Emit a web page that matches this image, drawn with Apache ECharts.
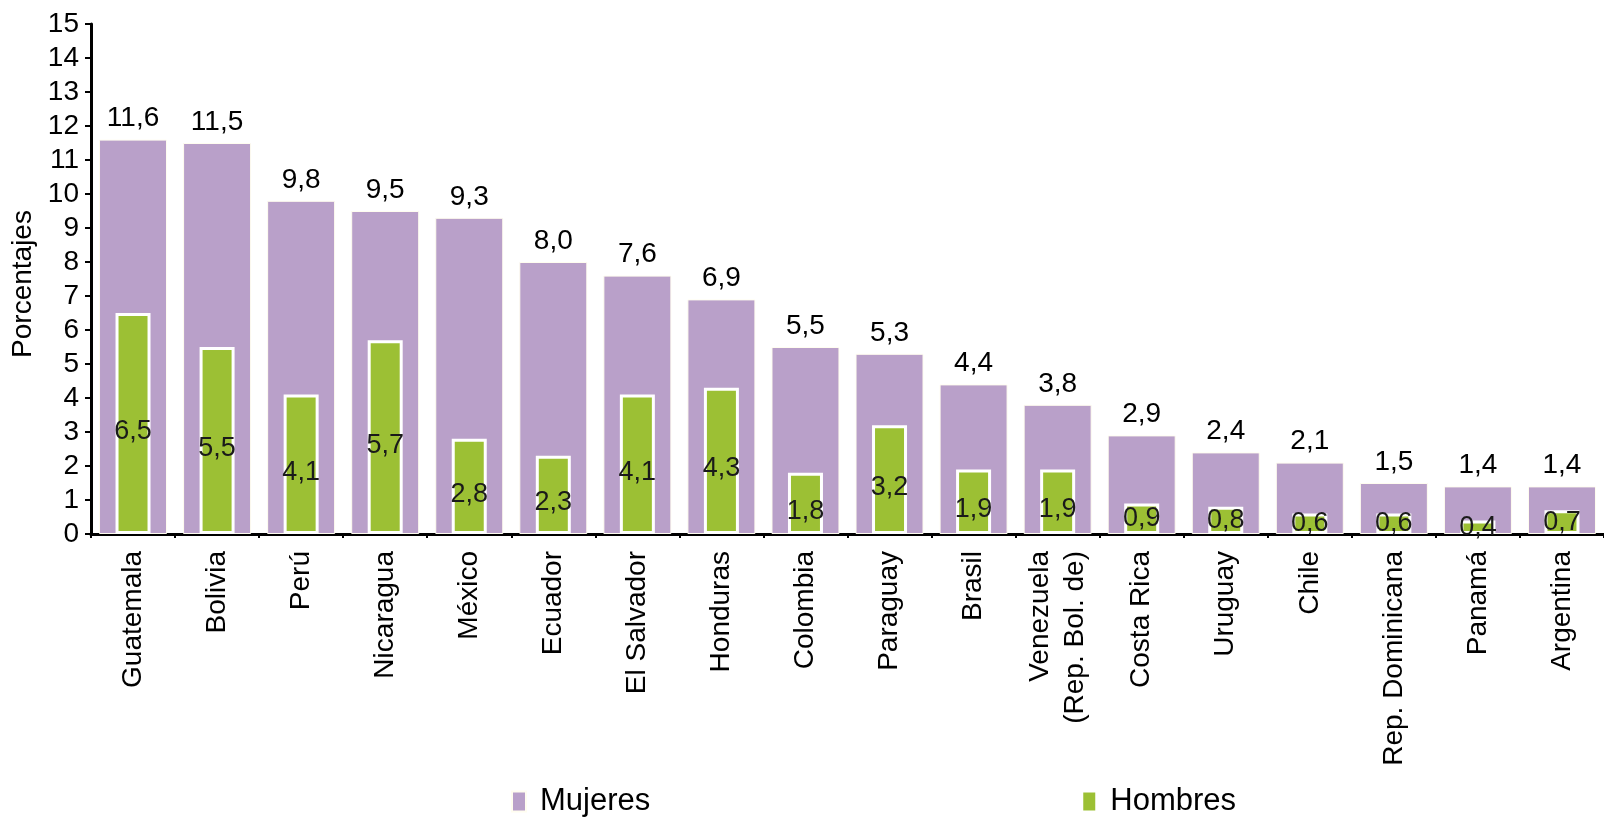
<!DOCTYPE html>
<html>
<head>
<meta charset="utf-8">
<script src="https://cdn.jsdelivr.net/npm/echarts@6/dist/echarts.min.js"></script>
<style>
  html, body { margin: 0; padding: 0; background: #fff; }
  #chart { width: 1604px; height: 818px; }
</style>
</head>
<body>
<div id="chart"></div>
<script>
// Chart data
const countries = [
  'Guatemala', 'Bolivia', 'Perú', 'Nicaragua', 'México', 'Ecuador',
  'El Salvador', 'Honduras', 'Colombia', 'Paraguay', 'Brasil',
  'Venezuela\n(Rep. Bol. de)', 'Costa Rica', 'Uruguay', 'Chile',
  'Rep. Dominicana', 'Panamá', 'Argentina'
];
const mujeres = [11.6, 11.5, 9.8, 9.5, 9.3, 8.0, 7.6, 6.9, 5.5, 5.3, 4.4, 3.8, 2.9, 2.4, 2.1, 1.5, 1.4, 1.4];
const hombres = [6.5, 5.5, 4.1, 5.7, 2.8, 2.3, 4.1, 4.3, 1.8, 3.2, 1.9, 1.9, 0.9, 0.8, 0.6, 0.6, 0.4, 0.7];

const FONT = '"Liberation Sans", Arial, sans-serif';
const PURPLE = '#b9a0c9';
const GREEN = '#9cc034';

const chart = echarts.init(document.getElementById('chart'));

// comma decimal separator
const fmt = (p) => p.value.toFixed(1).replace('.', ',');

// labels of the taller green bars sit a bit below the middle
const hombresData = hombres.map(v => ({
  value: v,
  label: { offset: [0, v >= 1.5 ? 8 : 0] }
}));

const option = {
  animation: false,
  textStyle: { fontFamily: FONT, color: '#000' },
  grid: { left: 91, right: -20, top: 24, bottom: 284 },
  legend: {
    left: 511,
    top: 786,
    padding: 0,
    itemGap: 431,
    itemWidth: 14,
    itemHeight: 20,
    icon: 'rect',
    textStyle: { fontFamily: FONT, fontSize: 31, color: '#000', padding: [0, 0, 0, 9] },
    data: ['Mujeres', 'Hombres']
  },
  xAxis: [
    {
      type: 'category',
      data: countries,
      axisLine: { lineStyle: { color: '#000', width: 3 } },
      axisTick: { show: true, length: 4, lineStyle: { color: '#000', width: 2 } },
      axisLabel: {
        rotate: 90,
        interval: 0,
        margin: 17,
        fontSize: 28,
        lineHeight: 35,
        color: '#000',
        fontFamily: FONT,
        padding: [0, 0, 20, 0]
      }
    },
    {
      type: 'category',
      data: countries,
      show: false
    }
  ],
  yAxis: {
    type: 'value',
    min: 0,
    max: 15,
    interval: 1,
    name: 'Porcentajes',
    nameLocation: 'middle',
    nameGap: 45,
    nameTextStyle: { fontSize: 28, color: '#000', fontFamily: FONT, padding: [0, 10, 0, 0] },
    axisLine: { show: true, lineStyle: { color: '#000', width: 3 } },
    axisTick: { show: true, length: 6, lineStyle: { color: '#000', width: 2 } },
    axisLabel: { fontSize: 28, margin: 12, color: '#000', fontFamily: FONT },
    splitLine: { show: false }
  },
  series: [
    {
      name: 'Mujeres',
      type: 'bar',
      xAxisIndex: 0,
      data: mujeres,
      barWidth: 68,
      itemStyle: { color: PURPLE, borderColor: '#fffdf0', borderWidth: 1 },
      label: {
        show: true,
        position: 'top',
        distance: 7,
        fontSize: 28,
        color: '#000',
        fontFamily: FONT,
        formatter: fmt
      },
      z: 2
    },
    {
      name: 'Hombres',
      type: 'bar',
      xAxisIndex: 1,
      data: hombresData,
      barWidth: 35,
      itemStyle: { color: GREEN, borderColor: '#fff', borderWidth: 3 },
      label: {
        show: true,
        position: 'inside',
        fontSize: 27,
        color: '#1a1a1a',
        fontFamily: FONT,
        formatter: fmt
      },
      z: 3
    }
  ]
};

chart.setOption(option);
</script>
</body>
</html>
